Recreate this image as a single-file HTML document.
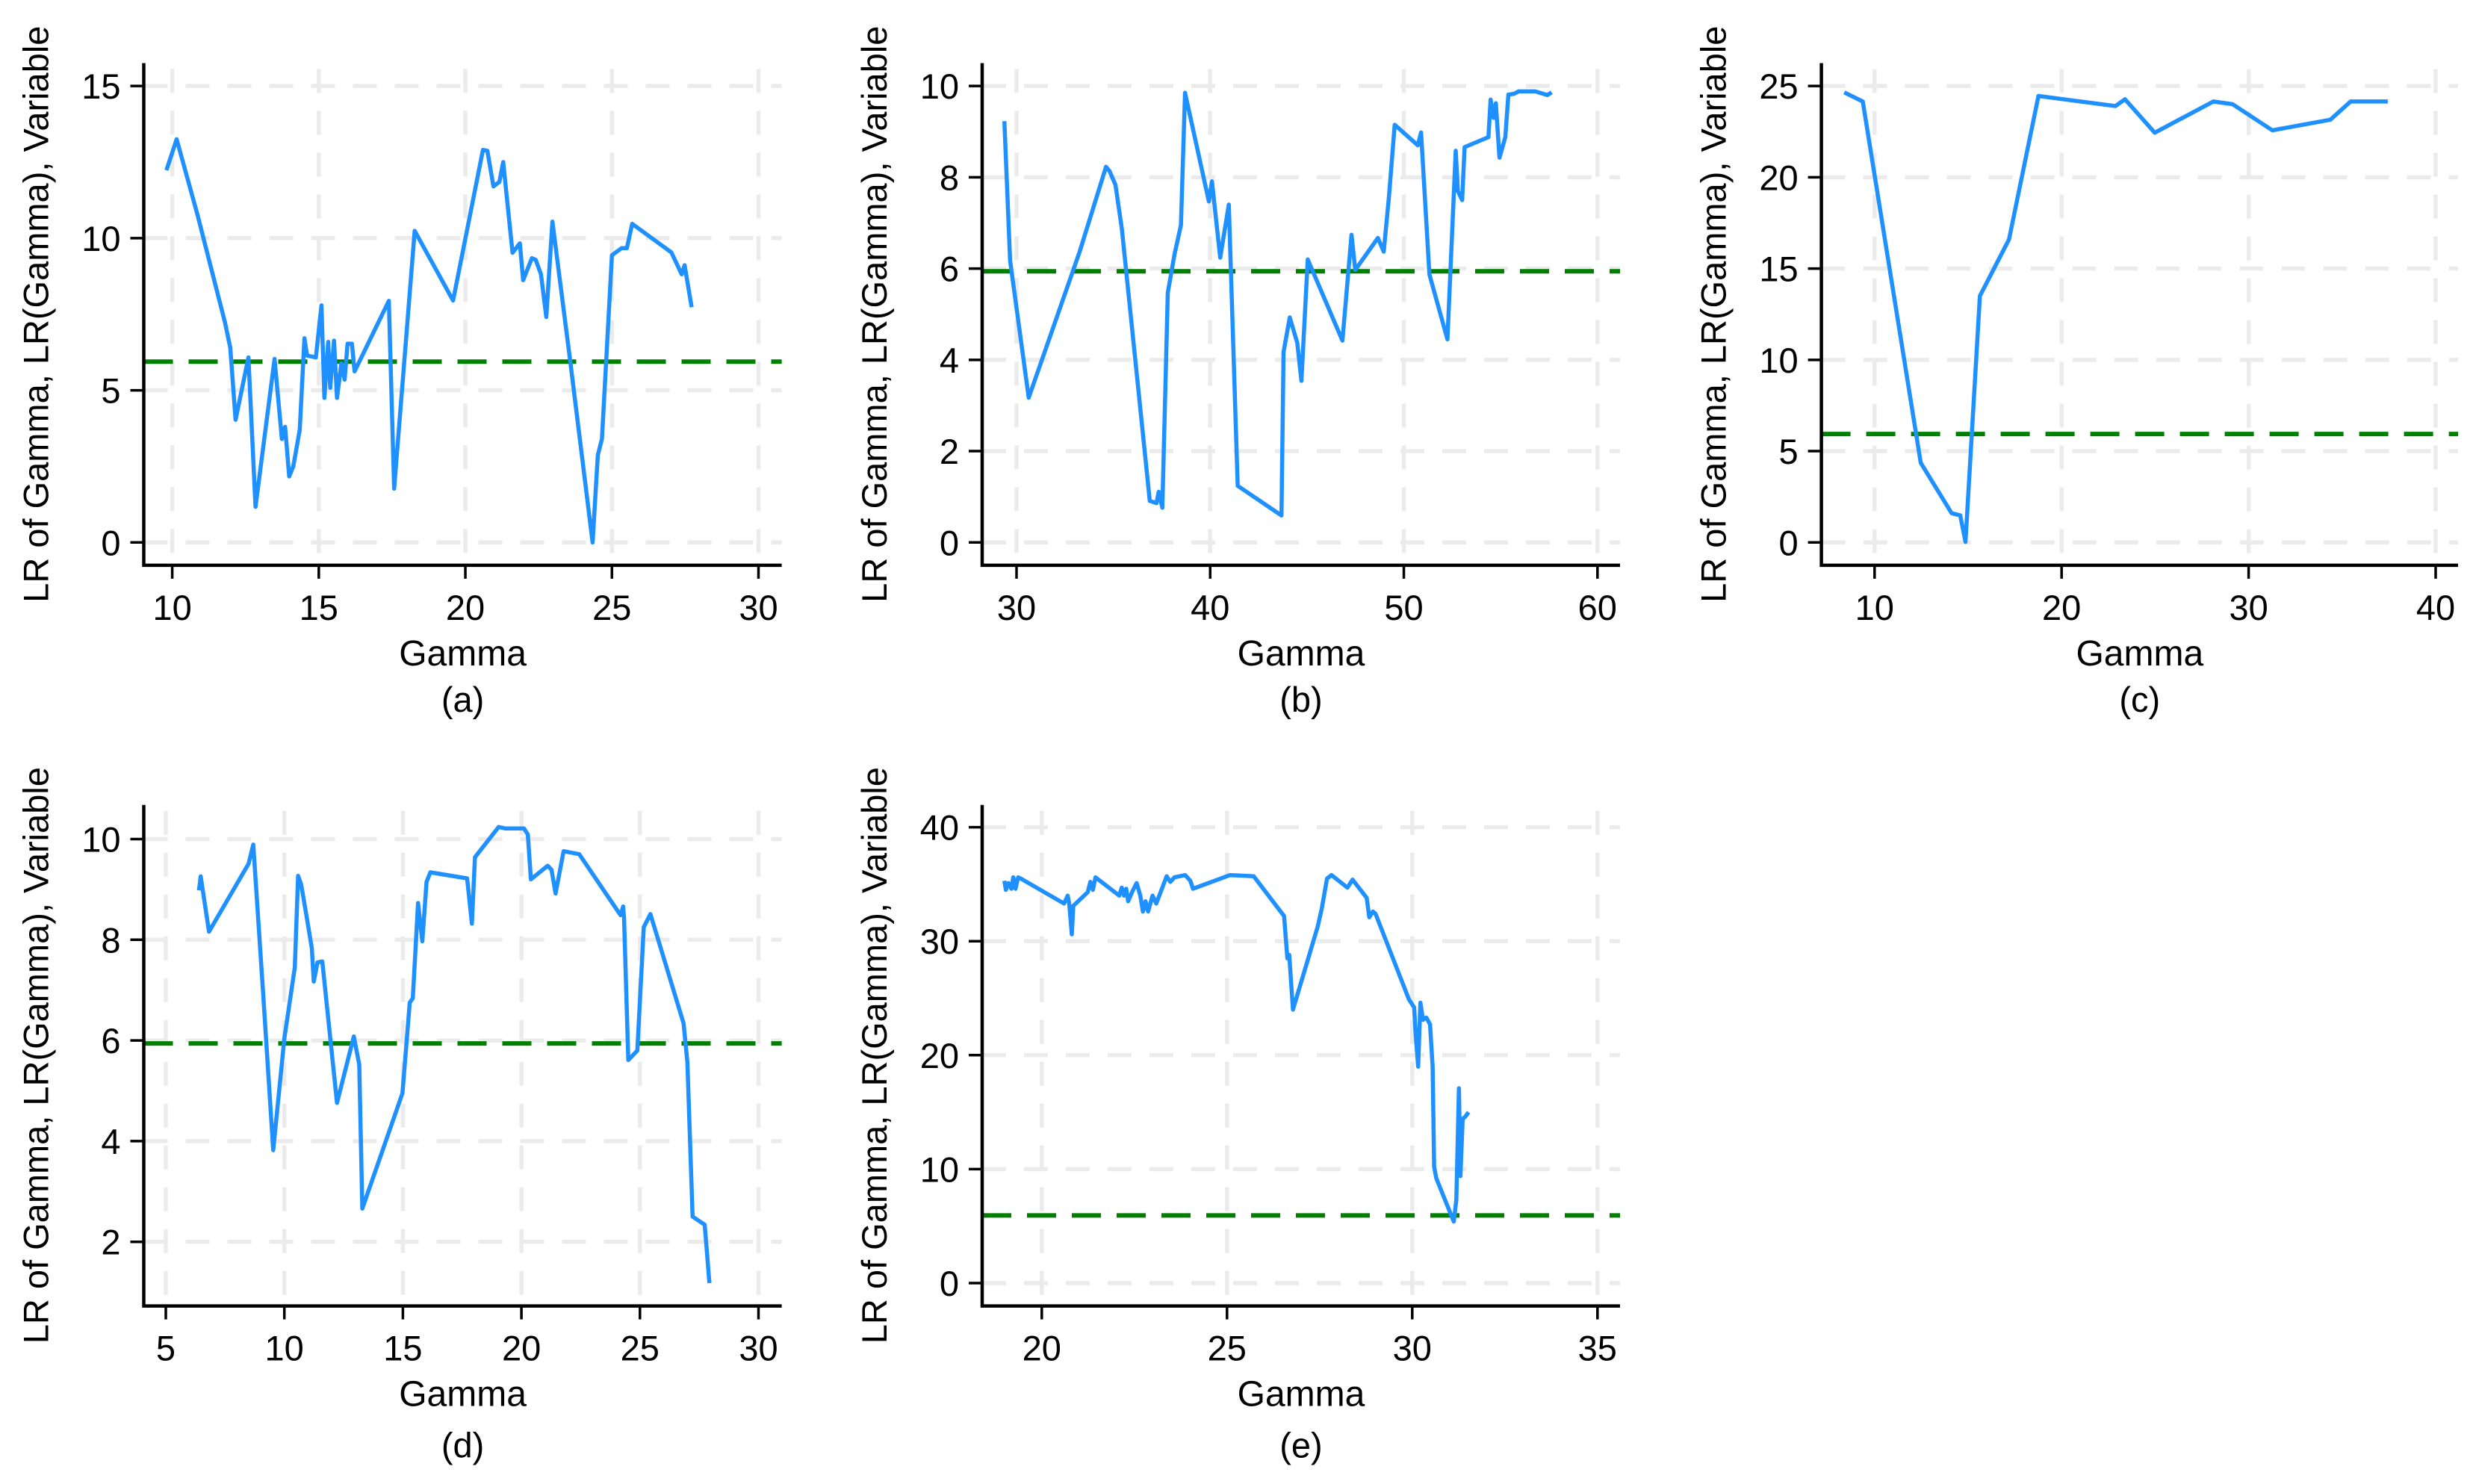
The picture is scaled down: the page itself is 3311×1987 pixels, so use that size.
<!DOCTYPE html>
<html><head><meta charset="utf-8"><style>
html,body{margin:0;padding:0;background:#fff;}
svg{display:block;font-family:"Liberation Sans",Arial,sans-serif;}
</style></head><body>
<svg id="fig" width="3311" height="1987" viewBox="0 0 3311 1987" xmlns="http://www.w3.org/2000/svg"></svg>
<script>
// ---- Panel (a) data ----
const aX=[9.8,10.15,10.86,11.8,11.98,12.16,12.6,12.84,13.49,13.74,13.85,13.99,14.13,14.35,14.51,14.6,14.9,15.09,15.19,15.32,15.39,15.52,15.62,15.77,15.88,15.98,16.13,16.22,17.39,17.57,18.27,19.58,20.6,20.75,20.96,21.16,21.29,21.61,21.86,21.97,22.27,22.4,22.58,22.76,22.97,23.58,24.34,24.52,24.66,25.0,25.33,25.51,25.69,27.03,27.38,27.48,27.72];
const aY=[12.23,13.25,10.77,7.23,6.4,4.03,6.08,1.17,6.03,3.4,3.8,2.17,2.5,3.7,6.71,6.14,6.08,7.79,4.75,6.59,5.08,6.63,4.75,5.88,5.35,6.53,6.53,5.62,7.94,1.77,10.24,7.95,12.9,12.87,11.7,11.85,12.5,9.52,9.83,8.62,9.34,9.29,8.81,7.41,10.54,5.95,0,2.87,3.4,9.44,9.67,9.67,10.47,9.53,8.81,9.11,7.73];
const aXTicks=[10,15,20,25,30];
const aYTicks=[0,5,10,15];
// ---- Panel (b) data ----
const bX=[29.37,29.67,30.63,33.26,34.62,34.81,35.11,35.44,36.88,37.23,37.34,37.53,37.81,38.16,38.49,38.7,39.93,40.09,40.52,40.96,41.42,43.68,43.79,44.11,44.5,44.71,45.04,46.83,47.3,47.49,48.66,48.96,49.23,49.53,50.72,50.89,51.32,52.25,52.68,52.79,53.01,53.14,54.37,54.48,54.64,54.75,54.94,55.24,55.4,55.7,55.92,56.79,57.41,57.63];
const bY=[9.23,6.17,3.17,6.37,8.23,8.13,7.83,6.87,0.91,0.86,1.11,0.76,5.47,6.32,6.95,9.85,7.47,7.91,6.24,7.4,1.24,0.59,4.17,4.93,4.37,3.54,6.2,4.42,6.74,5.97,6.67,6.37,7.57,9.15,8.7,8.98,5.87,4.45,8.58,7.7,7.5,8.66,8.88,9.7,9.3,9.62,8.43,8.88,9.81,9.83,9.88,9.88,9.8,9.86];
const bXTicks=[30,40,50,60];
const bYTicks=[0,2,4,6,8,10];
// ---- Panel (c) data ----
const cX=[8.38,9.37,12.47,14.12,14.58,14.86,15.63,17.19,18.76,22.88,23.39,24.98,28.11,29.14,31.27,34.37,35.45,37.44];
const cY=[24.65,24.15,4.36,1.6,1.48,0.03,13.5,16.6,24.45,23.9,24.27,22.44,24.15,24.0,22.57,23.15,24.15,24.15];
const cXTicks=[10,20,30,40];
const cYTicks=[0,5,10,15,20,25];
// ---- Panel (d) data ----
const dX=[6.4,6.47,6.82,8.49,8.69,9.11,9.53,10.0,10.44,10.58,10.71,10.93,11.16,11.24,11.4,11.6,12.22,12.93,13.16,13.29,14.98,15.29,15.42,15.64,15.82,16.0,16.16,17.71,17.91,18.04,19.04,19.33,20.11,20.27,20.4,21.11,21.27,21.44,21.78,22.44,24.18,24.29,24.33,24.51,24.89,25.16,25.44,26.84,27.0,27.22,27.73,27.93];
const dY=[8.98,9.26,8.16,9.51,9.89,6.89,3.82,6.04,7.45,9.27,9.1,8.49,7.83,7.17,7.55,7.57,4.76,6.08,5.52,2.66,4.95,6.75,6.84,8.73,7.97,9.15,9.34,9.22,8.32,9.64,10.24,10.21,10.21,10.09,9.2,9.47,9.39,8.92,9.76,9.7,8.49,8.66,8.44,5.61,5.8,8.25,8.51,6.34,5.57,2.5,2.34,1.18];
const dXTicks=[5,10,15,20,25,30];
const dYTicks=[2,4,6,8,10];
// ---- Panel (e) data ----
const eX=[18.99,19.03,19.1,19.18,19.23,19.29,19.36,19.43,20.6,20.7,20.74,20.81,20.85,21.24,21.31,21.38,21.45,22.09,22.16,22.22,22.28,22.33,22.45,22.56,22.66,22.73,22.8,22.87,22.99,23.09,23.37,23.47,23.58,23.87,24.01,24.08,25.08,25.72,26.54,26.63,26.68,26.78,27.45,27.56,27.7,27.82,28.25,28.39,28.77,28.84,28.94,29.01,29.91,30.05,30.09,30.16,30.22,30.29,30.38,30.48,30.55,30.59,30.65,31.12,31.19,31.26,31.3,31.36,31.43,31.52];
const eY=[35.3,34.5,35.1,34.6,35.6,34.6,35.6,35.5,33.3,34.0,33.3,30.6,33.1,34.3,35.2,34.5,35.6,34.0,34.7,34.0,34.6,33.5,34.4,35.1,34.0,32.6,33.5,32.6,34.0,33.3,35.7,35.2,35.6,35.8,35.3,34.6,35.8,35.7,32.2,28.5,28.8,24.0,31.3,32.9,35.5,35.8,34.7,35.4,33.8,32.1,32.6,32.4,24.9,24.2,21.9,19.0,24.6,23.1,23.3,22.7,19.0,10.2,9.2,5.4,7.3,17.1,9.4,14.4,14.6,15.0];
const eXTicks=[20,25,30,35];
const eYTicks=[0,10,20,30,40];
const critValue=5.94;

const NS="http://www.w3.org/2000/svg";
const svg=document.getElementById('fig');
function mk(tag,attrs,parent){const e=document.createElementNS(NS,tag);for(const k in attrs)e.setAttribute(k,attrs[k]);(parent||svg).appendChild(e);return e;}

const panels=[
 {id:'a',X:aX,Y:aY,xt:aXTicks,yt:aYTicks,left:192.5,right:1046.6,top:84.5,bottom:756.9,x0:10,px0:230.6,x1:30,px1:1015.5,y0:0,py0:726.3,y1:15,py1:115.1},
 {id:'b',X:bX,Y:bY,xt:bXTicks,yt:bYTicks,left:1315,right:2169,top:84.5,bottom:756.9,x0:30,px0:1361,x1:60,px1:2138.8,y0:0,py0:726.3,y1:10,py1:115.1},
 {id:'c',X:cX,Y:cY,xt:cXTicks,yt:cYTicks,left:2438.6,right:3291,top:84.5,bottom:756.9,x0:10,px0:2509.8,x1:40,px1:3261,y0:0,py0:726.3,y1:25,py1:115.1},
 {id:'d',X:dX,Y:dY,xt:dXTicks,yt:dYTicks,left:192.5,right:1046.6,top:1077.7,bottom:1748.6,x0:5,px0:222,x1:30,px1:1015.5,y0:2,py0:1662.7,y1:10,py1:1123.5},
 {id:'e',X:eX,Y:eY,xt:eXTicks,yt:eYTicks,left:1315,right:2169,top:1077.7,bottom:1748.6,x0:20,px0:1394.8,x1:35,px1:2138.8,y0:0,py0:1718,y1:40,py1:1107.6}
];

panels.forEach(p=>{
  const g=mk('g',{});
  
  
  const sx=v=>p.px0+(v-p.x0)*(p.px1-p.px0)/(p.x1-p.x0);
  const sy=v=>p.py0+(v-p.y0)*(p.py1-p.py0)/(p.y1-p.y0);
  p.yt.forEach(t=>{
    const l=mk('line',{x1:p.left,x2:p.right,y1:sy(t),y2:sy(t),stroke:'#ebebeb','stroke-width':5.5,'stroke-dasharray':'32 24'},g);
    
    
  });
  p.xt.forEach(t=>{
    const l=mk('line',{x1:sx(t),x2:sx(t),y1:p.top+8,y2:p.bottom,stroke:'#ebebeb','stroke-width':5.5,'stroke-dasharray':'32 24'},g);
    
    
  });
  const cl=mk('line',{x1:p.left,x2:p.right,y1:sy(critValue),y2:sy(critValue),stroke:'#008000','stroke-width':6,'stroke-dasharray':'39 21'},g);
  
  
  const d=p.X.map((x,i)=>(i?'L':'M')+sx(x).toFixed(1)+' '+sy(p.Y[i]).toFixed(1)).join(' ');
  const s=mk('path',{d:d,fill:'none',stroke:'#1E90FF','stroke-width':5.5,'stroke-linejoin':'round'},g);
  
  
  const ya=mk('line',{x1:p.left,x2:p.left,y1:p.top,y2:p.bottom+2,stroke:'#000','stroke-width':4.5},g);
  
  
  const xa=mk('line',{x1:p.left-2,x2:p.right,y1:p.bottom,y2:p.bottom,stroke:'#000','stroke-width':4.5},g);
  
  
  p.yt.forEach(t=>{
    const tk=mk('line',{x1:p.left-18,x2:p.left,y1:sy(t),y2:sy(t),stroke:'#000','stroke-width':3.5},g);
    
    
    const tx=mk('text',{x:p.left-31,y:sy(t)+17,'text-anchor':'end','font-size':47,fill:'#000'},g);
    tx.textContent=t;
    
    
  });
  p.xt.forEach(t=>{
    const tk=mk('line',{x1:sx(t),x2:sx(t),y1:p.bottom,y2:p.bottom+18,stroke:'#000','stroke-width':3.5},g);
    
    
    const tx=mk('text',{x:sx(t),y:p.bottom+73,'text-anchor':'middle','font-size':47,fill:'#000'},g);
    tx.textContent=t;
    
    
  });
  const cx=(p.left+p.right)/2;
  const xt=mk('text',{x:cx,y:p.bottom+134,'text-anchor':'middle','font-size':48,fill:'#000'},g);
  xt.textContent='Gamma';
  
  
  const cy=(p.top+p.bottom)/2;
  const yx=p.left-128;
  const yt=mk('text',{x:yx,y:cy,'text-anchor':'middle','font-size':47,fill:'#000',transform:'rotate(-90 '+yx+' '+cy+')'},g);
  yt.textContent='LR of Gamma, LR(Gamma), Variable';
  
  
  const pl=mk('text',{x:cx,y:p.bottom+(p.id==='d'||p.id==='e'?203:196),'text-anchor':'middle','font-size':47,fill:'#000'},g);
  pl.textContent='('+p.id+')';
  
  
});
</script>
</body></html>
